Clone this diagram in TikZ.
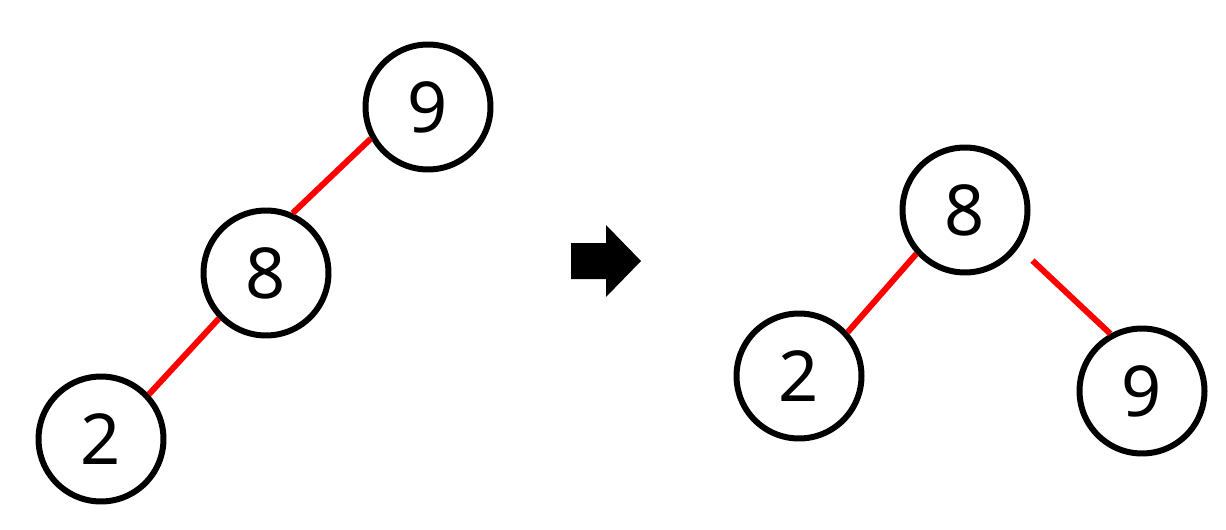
\documentclass[tikz,border=0pt]{standalone}
\usepackage{fontspec}
\setmainfont{Noto Sans}
\begin{document}
\begin{tikzpicture}[x=0.02cm,y=-0.02cm,
  vtx/.style={circle,draw=black,line width=0.12cm,minimum size=2.5cm,inner sep=0pt,font=\fontsize{40}{40}\selectfont},
  edge/.style={draw=red,line width=0.12cm}]
\useasboundingbox (0,0) rectangle (1226,530);
\node[vtx] (l9) at (428,107) {9};
\node[vtx] (l8) at (266,273) {8};
\node[vtx] (l2) at (101,439) {2};
\node[vtx] (r8) at (965,210) {8};
\node[vtx] (r2) at (799,376) {2};
\node[vtx] (r9) at (1142,391) {9};
\draw[edge] (l9.209) -- (l8.66);
\draw[edge] (l8.224) -- (l2.43);
\draw[edge] (r8.222) -- (r2.42);
\draw[edge,shorten <=0.38cm] (r8.-35) -- (r9.119);
\fill[black] (571,243) -- (606,243) -- (606,225) -- (641,261) -- (606,297) -- (606,279) -- (571,279) -- cycle;
\end{tikzpicture}
\end{document}
